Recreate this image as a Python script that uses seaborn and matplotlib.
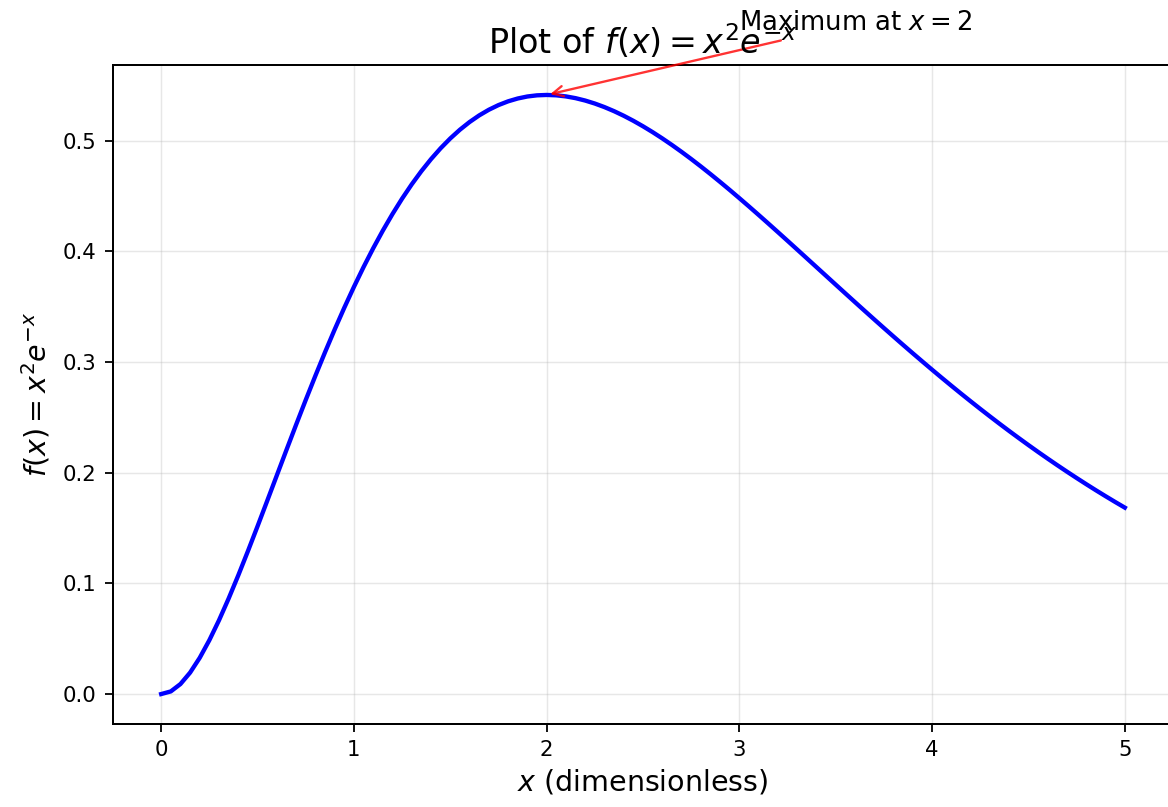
import matplotlib
matplotlib.use("Agg")
import matplotlib.pyplot as plt
import seaborn as sns
import pandas as pd

# Sampled values of f(x) = x^2 e^{-x} on [0, 5], step 0.05
x_vals = [round(0.05 * i, 2) for i in range(101)]
f_vals = [0.0, 0.00238, 0.00905, 0.01937, 0.03275, 0.04868, 0.06667, 0.08632, 0.10725, 0.12912,
          0.15163, 0.17453, 0.19757, 0.22056, 0.24333, 0.26571, 0.28756, 0.30881, 0.32932, 0.34903,
          0.36788, 0.38581, 0.40277, 0.41875, 0.43371, 0.44766, 0.46058, 0.47247, 0.48333, 0.49318,
          0.50204, 0.50993, 0.51686, 0.52286, 0.52796, 0.53218, 0.53557, 0.53814, 0.53995, 0.54100,
          0.54134, 0.54101, 0.54003, 0.53845, 0.53629, 0.53358, 0.53037, 0.52668, 0.52254, 0.51798,
          0.51303, 0.50773, 0.50209, 0.49615, 0.48993, 0.48346, 0.47675, 0.46984, 0.46274, 0.45549,
          0.44808, 0.44056, 0.43292, 0.42520, 0.41740, 0.40955, 0.40166, 0.39373, 0.38579, 0.37786,
          0.36992, 0.36201, 0.35412, 0.34627, 0.33847, 0.33072, 0.32304, 0.31542, 0.30788, 0.30043,
          0.29305, 0.28577, 0.27859, 0.27150, 0.26453, 0.25764, 0.25089, 0.24423, 0.23769, 0.23127,
          0.22496, 0.21876, 0.21270, 0.20675, 0.20092, 0.19521, 0.18961, 0.18413, 0.17879, 0.17355,
          0.16845]

peak_x = 2.0
peak_y = 0.54134
label_x = 3.0
label_y = 0.6

df = pd.DataFrame({"x": x_vals, "f": f_vals})

fig = plt.figure(figsize=(1168 / 130, 807 / 130), dpi=130)
ax = fig.add_axes([113 / 1168, 83 / 807, 1060 / 1168, 659 / 807])

sns.lineplot(data=df, x="x", y="f", ax=ax, color="blue", linewidth=2.4)

ax.set_title(r"Plot of $f(x) = x^2 e^{-x}$", fontsize=18.5)
ax.set_xlabel(r"$x$ (dimensionless)", fontsize=15.8)
ax.set_ylabel(r"$f(x) = x^2 e^{-x}$", fontsize=15.8, labelpad=6)
ax.tick_params(labelsize=11.8, length=4.5, width=1, pad=4.5)
for spine in ax.spines.values():
    spine.set_linewidth(1.1)
ax.grid(True, alpha=0.3)

ax.annotate(r"Maximum at $x = 2$", xy=(peak_x, peak_y), xytext=(label_x, label_y),
            fontsize=14.3, arrowprops=dict(arrowstyle="->", color="red", alpha=0.8, lw=1.3))

fig.savefig("out.png", dpi=130)
